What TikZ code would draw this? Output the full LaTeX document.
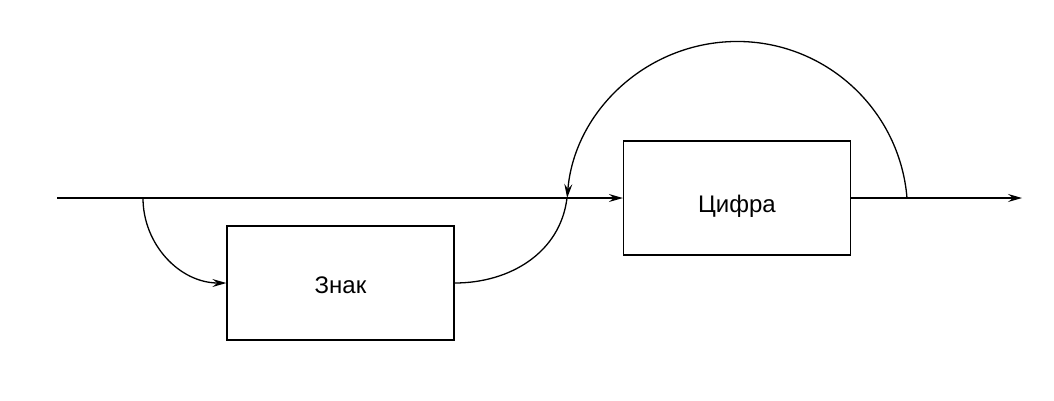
\documentclass[tikz,border=0pt]{standalone}
\usepackage{fontspec}
\setmainfont{Liberation Sans}
\usetikzlibrary{arrows.meta}
\begin{document}
\begin{tikzpicture}[x=1pt,y=1pt,
  line/.style={line width=1.3pt},
  arr/.style={line, -{Stealth[length=14pt,width=8pt,inset=5pt]}},
  blk/.style={draw, line width=1.3pt, minimum width=227pt, minimum height=114pt, inner sep=0pt, text depth=0pt, font=\fontsize{24}{28}\selectfont}]
\useasboundingbox (0,0) rectangle (1054,-400);
\node[blk, text height=21pt] (znak) at (340.5,-283) {Знак};
\node[blk, text height=29pt] (cifra) at (737,-198) {Цифра};
\coordinate (start) at (57,-198);
\coordinate (split) at (143,-198);
\coordinate (join) at (567,-198);
\coordinate (out) at (907,-198);
\coordinate (end) at (1022,-198);
\draw[arr] (start) -- (cifra.west);
\draw[arr] (split) to[out=-90,in=180] (znak.west);
\draw[line] (znak.east) to[out=0,in=-97] (join);
\draw[arr] (out) arc[start angle=4.7,end angle=175.3,radius=170.5pt];
\draw[arr] (cifra.east) -- (end);
\end{tikzpicture}
\end{document}
